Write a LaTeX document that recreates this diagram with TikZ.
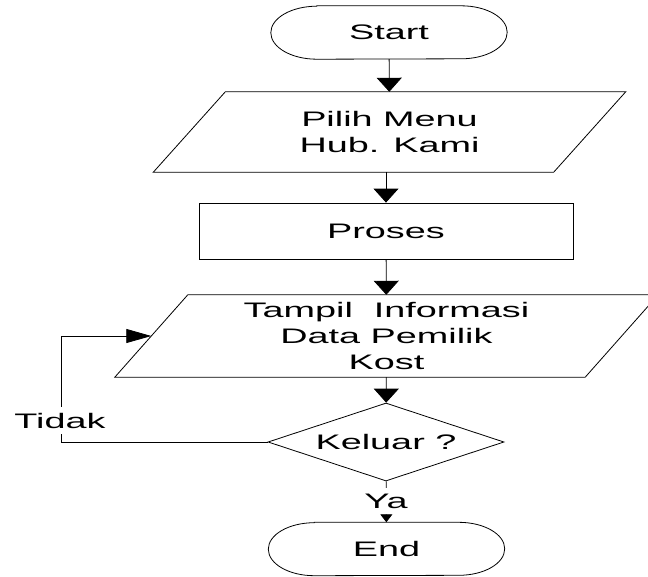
\documentclass[tikz,border=0pt]{standalone}
\usepackage{fontspec}
\newfontfamily\flowfont{Liberation Sans}[FakeStretch=1.8]
\usetikzlibrary{arrows.meta,shapes.geometric}
% outline of a terminal (stretched round ends)
\def\termline#1{\draw[flowline] ([xshift=46pt]#1.north west) -- ([xshift=-46pt]#1.north east)
	arc[start angle=90,end angle=-90,x radius=46pt,y radius=26.5pt] -- ([xshift=46pt]#1.south west)
	arc[start angle=270,end angle=90,x radius=46pt,y radius=26.5pt] -- cycle;}
% outline of an input/output box, #2 = half the slant
\def\ioline#1#2{\draw[flowline] ([xshift=-#2pt]#1.south west) -- ([xshift=-#2pt]#1.south east)
	-- ([xshift=#2pt]#1.north east) -- ([xshift=#2pt]#1.north west) -- cycle;}

\begin{document}
\begin{tikzpicture}[x=1pt,y=1pt,
		font=\flowfont\fontsize{21}{26}\selectfont,
		flowline/.style={line width=0.8pt,draw=black},
		bigarrow/.style={flowline,-{Triangle[width=25pt,length=14pt]}},
		terminal/.style={minimum width=236pt,minimum height=53pt,inner sep=0pt},
		iobox/.style={align=center,inner sep=0pt},
		label/.style={fill=white,inner sep=6pt}]
		\useasboundingbox (0,0) rectangle (648,-576);

		% Shapes of the flow
		\node[terminal] (start) at (389,-32.5) {Start};
		\termline{start}
		\node[iobox,minimum width=400pt,minimum height=80pt] (menu) at (389.5,-132) {Pilih Menu\\Hub. Kami};
		\ioline{menu}{36}
		\node[flowline,draw,minimum width=374pt,minimum height=56pt,inner sep=0pt] (proses) at (386,-231) {Proses};
		\node[iobox,minimum width=470pt,minimum height=82pt] (info) at (386.5,-336) {Tampil\ \ Informasi\\Data Pemilik\\Kost};
		\ioline{info}{36.5}
		\node[flowline,draw,diamond,aspect=3,minimum width=236pt,minimum height=78pt,inner sep=0pt] (keluar) at (386,-442) {Keluar ?};
		\node[terminal] (end) at (386.5,-549) {End};
		\termline{end}

		% Arrows down the main line
		\draw[bigarrow] (start) -- (menu);
		\draw[bigarrow] (menu.south -| proses.north) -- (proses);
		\draw[bigarrow] (proses) -- (info);
		\draw[bigarrow] (info) -- (keluar);
		\draw[flowline,-{Triangle[width=12pt,length=8pt]}] (keluar) -- (end);
		\node[label] (ya) at (386,-501) {Ya};

		% Loop back when the answer is no
		\coordinate (back) at (61,-442);
		\draw[flowline,-{Triangle[width=14pt,length=25pt]}] (keluar.west) -- (back) |- (info.west);
		\node[label] (tidak) at (60,-420.5) {Tidak};
	\end{tikzpicture}
\end{document}
